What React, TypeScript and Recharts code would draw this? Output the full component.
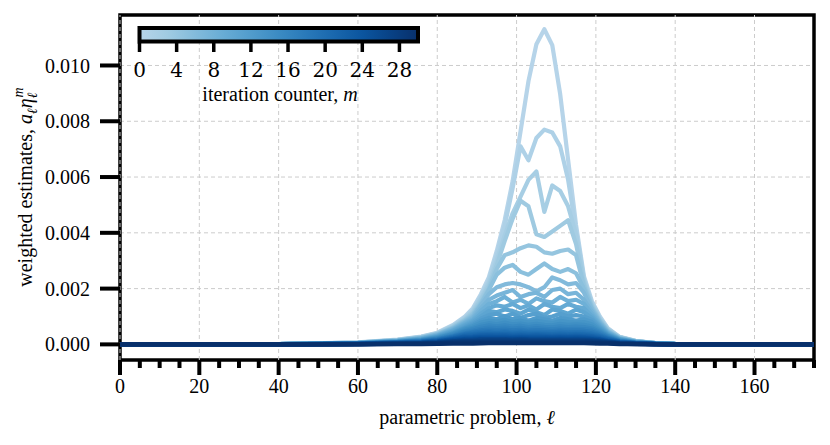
import React from 'react';
import {
  LineChart,
  Line,
  XAxis,
  YAxis,
  CartesianGrid,
  ReferenceLine,
  ReferenceArea,
} from 'recharts';

// parametric problem index
const ELL = [0, 40, 60, 70, 76, 80, 84, 87, 89, 91, 93, 95, 97, 99, 101, 103, 105, 107, 109, 111, 113, 115, 117, 119, 121, 123, 126, 130, 135, 140, 175];

// weighted estimates a_l * eta_l^m, in units of 1e-3, one row per iteration m = 0..29
const ESTIMATES_MILLI = [
  [0, 0.01, 0.07, 0.17, 0.28, 0.42, 0.7, 1.0, 1.3, 1.8, 2.4, 3.35, 4.45, 5.85, 7.64, 9.44, 10.76, 11.3, 10.73, 8.97, 6.61, 4.28, 2.44, 1.55, 1.0, 0.58, 0.27, 0.13, 0.05, 0.02, 0],
  [0, 0.01, 0.065, 0.16, 0.27, 0.4, 0.67, 0.96, 1.25, 1.72, 2.3, 3.2, 4.25, 5.6, 7.1, 6.6, 7.4, 7.7, 7.6, 7.1, 5.9, 4.1, 2.35, 1.5, 0.96, 0.56, 0.26, 0.12, 0.05, 0.02, 0],
  [0, 0.01, 0.06, 0.155, 0.26, 0.39, 0.65, 0.93, 1.2, 1.65, 2.2, 3.0, 3.9, 4.7, 5.3, 5.9, 6.2, 4.75, 5.7, 5.5, 4.95, 3.95, 2.3, 1.45, 0.92, 0.54, 0.25, 0.12, 0.05, 0.02, 0],
  [0, 0.01, 0.06, 0.15, 0.25, 0.38, 0.63, 0.9, 1.15, 1.6, 2.1, 2.85, 3.7, 4.5, 5.15, 4.95, 3.95, 3.85, 4.05, 4.25, 4.45, 3.6, 2.2, 1.4, 0.9, 0.52, 0.25, 0.12, 0.05, 0.02, 0],
  [0, 0.01, 0.058, 0.145, 0.24, 0.37, 0.61, 0.87, 1.1, 1.5, 2.0, 2.7, 3.2, 3.3, 3.45, 3.55, 3.5, 3.3, 3.25, 3.35, 3.4, 3.2, 2.1, 1.35, 0.86, 0.5, 0.24, 0.11, 0.045, 0.018, 0],
  [0, 0.01, 0.056, 0.14, 0.235, 0.36, 0.59, 0.85, 1.05, 1.45, 1.95, 2.5, 2.75, 2.85, 2.6, 2.5, 2.7, 2.9, 2.7, 2.6, 2.7, 2.55, 2.0, 1.3, 0.83, 0.48, 0.23, 0.11, 0.045, 0.018, 0],
  [0, 0.009, 0.054, 0.135, 0.225, 0.35, 0.57, 0.82, 1.0, 1.4, 1.8, 2.05, 2.15, 2.2, 2.15, 2.05, 1.9, 2.05, 2.4, 2.3, 2.15, 2.2, 1.85, 1.25, 0.8, 0.46, 0.22, 0.105, 0.043, 0.017, 0],
  [0, 0.009, 0.052, 0.13, 0.215, 0.33, 0.55, 0.78, 0.95, 1.3, 1.6, 1.75, 1.85, 1.95, 1.7, 1.8, 1.85, 1.7, 1.95, 2.0, 1.8, 1.85, 1.6, 1.18, 0.76, 0.44, 0.21, 0.1, 0.04, 0.016, 0],
  [0, 0.008, 0.05, 0.125, 0.205, 0.32, 0.52, 0.75, 0.9, 1.2, 1.45, 1.55, 1.7, 1.5, 1.6, 1.45, 1.65, 1.55, 1.5, 1.7, 1.55, 1.6, 1.45, 1.1, 0.72, 0.42, 0.2, 0.095, 0.038, 0.015, 0],
  [0, 0.008, 0.048, 0.12, 0.195, 0.3, 0.5, 0.71, 0.85, 1.1, 1.3, 1.4, 1.35, 1.45, 1.3, 1.4, 1.25, 1.45, 1.35, 1.3, 1.45, 1.35, 1.3, 1.02, 0.68, 0.4, 0.19, 0.09, 0.036, 0.014, 0],
  [0, 0.007, 0.045, 0.115, 0.185, 0.29, 0.47, 0.67, 0.8, 1.0, 1.2, 1.15, 1.25, 1.2, 1.1, 1.25, 1.15, 1.05, 1.25, 1.2, 1.1, 1.25, 1.15, 0.95, 0.64, 0.38, 0.18, 0.085, 0.034, 0.013, 0],
  [0, 0.007, 0.043, 0.11, 0.175, 0.27, 0.44, 0.63, 0.75, 0.92, 1.05, 1.1, 1.0, 1.1, 0.95, 1.05, 1.1, 0.95, 1.0, 1.1, 1.0, 1.05, 1.0, 0.88, 0.6, 0.36, 0.17, 0.08, 0.032, 0.012, 0],
  [0, 0.006, 0.04, 0.1, 0.165, 0.255, 0.42, 0.59, 0.7, 0.85, 0.95, 0.9, 1.0, 0.9, 0.95, 0.85, 0.95, 0.9, 0.85, 0.95, 0.9, 0.85, 0.9, 0.8, 0.56, 0.34, 0.16, 0.075, 0.03, 0.011, 0],
  [0, 0.006, 0.038, 0.095, 0.155, 0.24, 0.39, 0.56, 0.65, 0.78, 0.85, 0.82, 0.88, 0.8, 0.85, 0.78, 0.84, 0.8, 0.76, 0.84, 0.8, 0.78, 0.8, 0.72, 0.52, 0.32, 0.15, 0.07, 0.028, 0.01, 0],
  [0, 0.005, 0.035, 0.09, 0.145, 0.225, 0.37, 0.52, 0.6, 0.7, 0.76, 0.72, 0.78, 0.72, 0.75, 0.7, 0.74, 0.7, 0.68, 0.74, 0.7, 0.72, 0.7, 0.64, 0.48, 0.3, 0.14, 0.066, 0.026, 0.01, 0],
  [0, 0.005, 0.033, 0.085, 0.135, 0.21, 0.34, 0.48, 0.55, 0.63, 0.68, 0.65, 0.68, 0.64, 0.67, 0.62, 0.66, 0.63, 0.61, 0.65, 0.62, 0.64, 0.62, 0.57, 0.44, 0.28, 0.13, 0.062, 0.024, 0.009, 0],
  [0, 0.005, 0.03, 0.08, 0.125, 0.195, 0.31, 0.44, 0.5, 0.56, 0.6, 0.58, 0.6, 0.57, 0.59, 0.55, 0.58, 0.56, 0.54, 0.57, 0.55, 0.56, 0.55, 0.51, 0.4, 0.26, 0.12, 0.058, 0.022, 0.008, 0],
  [0, 0.004, 0.028, 0.075, 0.115, 0.18, 0.29, 0.4, 0.45, 0.5, 0.53, 0.51, 0.53, 0.5, 0.52, 0.49, 0.51, 0.5, 0.48, 0.5, 0.49, 0.5, 0.49, 0.45, 0.36, 0.24, 0.11, 0.054, 0.02, 0.008, 0],
  [0, 0.004, 0.026, 0.07, 0.105, 0.165, 0.27, 0.37, 0.41, 0.45, 0.47, 0.45, 0.47, 0.44, 0.46, 0.44, 0.45, 0.44, 0.43, 0.45, 0.43, 0.44, 0.43, 0.4, 0.32, 0.22, 0.1, 0.05, 0.019, 0.007, 0],
  [0, 0.004, 0.024, 0.065, 0.095, 0.15, 0.25, 0.34, 0.37, 0.4, 0.42, 0.4, 0.42, 0.39, 0.41, 0.39, 0.4, 0.39, 0.38, 0.4, 0.38, 0.39, 0.38, 0.35, 0.29, 0.2, 0.095, 0.046, 0.018, 0.007, 0],
  [0, 0.003, 0.022, 0.06, 0.088, 0.14, 0.23, 0.31, 0.33, 0.36, 0.37, 0.36, 0.37, 0.35, 0.36, 0.35, 0.36, 0.35, 0.34, 0.35, 0.34, 0.35, 0.34, 0.31, 0.26, 0.18, 0.09, 0.042, 0.016, 0.006, 0],
  [0, 0.003, 0.02, 0.055, 0.08, 0.125, 0.21, 0.28, 0.29, 0.32, 0.33, 0.32, 0.33, 0.31, 0.32, 0.31, 0.32, 0.31, 0.3, 0.31, 0.3, 0.31, 0.3, 0.28, 0.23, 0.16, 0.08, 0.038, 0.015, 0.005, 0],
  [0, 0.003, 0.018, 0.05, 0.072, 0.11, 0.19, 0.25, 0.26, 0.28, 0.29, 0.28, 0.29, 0.27, 0.28, 0.27, 0.28, 0.27, 0.26, 0.27, 0.26, 0.27, 0.26, 0.24, 0.2, 0.14, 0.07, 0.034, 0.013, 0.005, 0],
  [0, 0.002, 0.016, 0.045, 0.065, 0.1, 0.17, 0.22, 0.23, 0.25, 0.25, 0.25, 0.25, 0.24, 0.25, 0.24, 0.24, 0.24, 0.23, 0.24, 0.23, 0.24, 0.23, 0.21, 0.18, 0.12, 0.062, 0.03, 0.012, 0.004, 0],
  [0, 0.002, 0.014, 0.04, 0.058, 0.09, 0.15, 0.19, 0.2, 0.22, 0.22, 0.22, 0.22, 0.21, 0.22, 0.21, 0.21, 0.21, 0.2, 0.21, 0.2, 0.21, 0.2, 0.19, 0.16, 0.11, 0.055, 0.027, 0.011, 0.004, 0],
  [0, 0.002, 0.012, 0.035, 0.05, 0.078, 0.13, 0.165, 0.17, 0.19, 0.19, 0.19, 0.19, 0.18, 0.19, 0.18, 0.18, 0.18, 0.17, 0.18, 0.17, 0.18, 0.17, 0.16, 0.14, 0.1, 0.048, 0.024, 0.01, 0.003, 0],
  [0, 0.002, 0.01, 0.03, 0.043, 0.066, 0.11, 0.14, 0.14, 0.16, 0.16, 0.16, 0.16, 0.15, 0.16, 0.15, 0.15, 0.15, 0.15, 0.15, 0.15, 0.15, 0.15, 0.14, 0.12, 0.085, 0.04, 0.02, 0.008, 0.003, 0],
  [0, 0.001, 0.008, 0.024, 0.035, 0.054, 0.09, 0.11, 0.11, 0.12, 0.13, 0.13, 0.13, 0.12, 0.13, 0.12, 0.12, 0.12, 0.12, 0.12, 0.12, 0.12, 0.12, 0.11, 0.095, 0.07, 0.033, 0.016, 0.006, 0.002, 0],
  [0, 0.001, 0.005, 0.016, 0.024, 0.036, 0.06, 0.075, 0.07, 0.08, 0.085, 0.085, 0.085, 0.08, 0.085, 0.08, 0.08, 0.08, 0.08, 0.08, 0.08, 0.08, 0.08, 0.075, 0.065, 0.05, 0.024, 0.012, 0.005, 0.002, 0],
  [0, 0, 0.002, 0.007, 0.01, 0.015, 0.025, 0.03, 0.03, 0.035, 0.04, 0.04, 0.04, 0.04, 0.04, 0.04, 0.04, 0.04, 0.04, 0.04, 0.04, 0.04, 0.04, 0.035, 0.03, 0.025, 0.012, 0.006, 0.002, 0.001, 0],
];

const X_TICKS = [0, 5, 10, 15, 20, 25, 30, 35, 40, 45, 50, 55, 60, 65, 70, 75, 80, 85, 90, 95, 100, 105, 110, 115, 120, 125, 130, 135, 140, 145, 150, 155, 160, 165, 170, 175];
const X_GRID = [0, 20, 40, 60, 80, 100, 120, 140, 160];
const Y_TICKS = [0, 0.002, 0.004, 0.006, 0.008, 0.01];
const CBAR_TICKS = [0, 4, 8, 12, 16, 20, 24, 28];

const X_DOMAIN = [0, 175];
const Y_DOMAIN = [-0.00056, 0.01181];
const CBAR_RANGE = [0, 30];

const FONT = 'Liberation Serif';
const FONT_B = 'DejaVu Serif';

// matplotlib "Blues"
const BLUES = [
  [247, 251, 255], [222, 235, 247], [198, 219, 239], [158, 202, 225],
  [107, 174, 214], [66, 146, 198], [33, 113, 181], [8, 81, 156], [8, 48, 107],
];
function blues(t: number) {
  const p = Math.max(0, Math.min(1, t)) * (BLUES.length - 1);
  const i = Math.min(Math.floor(p), BLUES.length - 2);
  const f = p - i;
  const c = BLUES[i].map((v, k) => Math.round(v + (BLUES[i + 1][k] - v) * f));
  return `rgb(${c[0]},${c[1]},${c[2]})`;
}
const iterColor = (m: number) => blues(0.3 + (0.7 * m) / (ESTIMATES_MILLI.length - 1));

const data = ELL.map((ell, i) => {
  const row: Record<string, number> = { ell };
  ESTIMATES_MILLI.forEach((s, m) => {
    row[`m${m}`] = s[i] / 1000;
  });
  return row;
});

function XTick(props: any) {
  const { x, y, payload } = props;
  const major = payload.value % 20 === 0 && payload.value <= 160;
  return (
    <g>
      <line x1={x} x2={x} y1={y} y2={y + (major ? 15 : 8)} stroke="#000" strokeWidth={4} />
      {major && (
        <text x={x} y={y + 33} textAnchor="middle" fontSize={20} style={{ fontFamily: FONT }} fill="#000">
          {payload.value}
        </text>
      )}
    </g>
  );
}

function Colorbar() {
  const x0 = 139.5;
  const x1 = 418;
  const sx = (v: number) => x0 + ((v - CBAR_RANGE[0]) / (CBAR_RANGE[1] - CBAR_RANGE[0])) * (x1 - x0);
  const stops = [0, 0.1, 0.2, 0.3, 0.4, 0.5, 0.6, 0.7, 0.8, 0.9, 1];
  return (
    <g>
      <defs>
        <linearGradient id="cbar" x1="0" x2="1" y1="0" y2="0">
          {stops.map((s) => (
            <stop key={s} offset={s} stopColor={blues(0.3 + 0.7 * s)} />
          ))}
        </linearGradient>
      </defs>
      <rect x={x0} y={28} width={x1 - x0} height={13.5} fill="url(#cbar)" stroke="#000" strokeWidth={4} />
      {CBAR_TICKS.map((t) => (
        <g key={t}>
          <line x1={sx(t)} x2={sx(t)} y1={43} y2={52} stroke="#000" strokeWidth={3.5} />
          <text x={sx(t)} y={77} textAnchor="middle" fontSize={20} style={{ fontFamily: FONT_B }} fill="#000">
            {t}
          </text>
        </g>
      ))}
      <text x={280} y={101} textAnchor="middle" fontSize={20} style={{ fontFamily: FONT }} fill="#000">
        iteration counter, <tspan fontStyle="italic">m</tspan>
      </text>
    </g>
  );
}

export default function App() {
  return (
    <div style={{ position: 'absolute', left: 0, top: 0, width: 830, height: 445, background: '#fff', fontFamily: FONT }}>
      <LineChart width={830} height={445} data={data} margin={{ top: 15, right: 16, bottom: 0, left: 0 }}>
        <CartesianGrid vertical={false} stroke="#cccccc" strokeDasharray="4 3" strokeWidth={1} />
        {X_GRID.map((g) => (
          <ReferenceLine key={g} x={g} stroke="#cccccc" strokeDasharray="4 3" strokeWidth={1} />
        ))}
        <XAxis
          dataKey="ell"
          type="number"
          domain={X_DOMAIN}
          ticks={X_TICKS}
          interval={0}
          height={85}
          tickSize={0}
          tickMargin={0}
          tickLine={false}
          axisLine={false}
          tick={(p: any) => <XTick {...p} />}
        />
        <YAxis
          type="number"
          domain={Y_DOMAIN}
          ticks={Y_TICKS}
          interval={0}
          width={120}
          tickSize={20}
          tickMargin={10}
          axisLine={false}
          tickLine={{ stroke: '#000', strokeWidth: 4 }}
          tick={{ fill: '#000', fontSize: 20, style: { fontFamily: FONT } }}
          tickFormatter={(v: number) => v.toFixed(3)}
        />
        {ESTIMATES_MILLI.map((_, m) => (
          <Line
            key={m}
            type="linear"
            dataKey={`m${m}`}
            stroke={iterColor(m)}
            strokeWidth={4.2}
            strokeLinejoin="round"
            dot={false}
            activeDot={false}
            isAnimationActive={false}
          />
        ))}
        <ReferenceArea
          x1={X_DOMAIN[0]}
          x2={X_DOMAIN[1]}
          y1={Y_DOMAIN[0]}
          y2={Y_DOMAIN[1]}
          fill="none"
          fillOpacity={0}
          stroke="#000"
          strokeWidth={3.5}
          ifOverflow="visible"
        />
      </LineChart>
      <svg width={830} height={445} style={{ position: 'absolute', left: 0, top: 0, pointerEvents: 'none', fontFamily: FONT }}>
        <Colorbar />
        <text x={467} y={424} textAnchor="middle" fontSize={20} fill="#000">
          parametric problem, <tspan fontStyle="italic">ℓ</tspan>
        </text>
        <text transform="translate(32,187) rotate(-90)" textAnchor="middle" fontSize={20} fill="#000">
          weighted estimates, <tspan fontStyle="italic">a</tspan>
          <tspan fontStyle="italic" fontSize={14} dy={5}>ℓ</tspan>
          <tspan fontStyle="italic" dy={-5}>η</tspan>
          <tspan fontStyle="italic" fontSize={14} dy={5}>ℓ</tspan>
          <tspan fontStyle="italic" fontSize={14} dx={-5} dy={-14}>m</tspan>
        </text>
      </svg>
    </div>
  );
}
